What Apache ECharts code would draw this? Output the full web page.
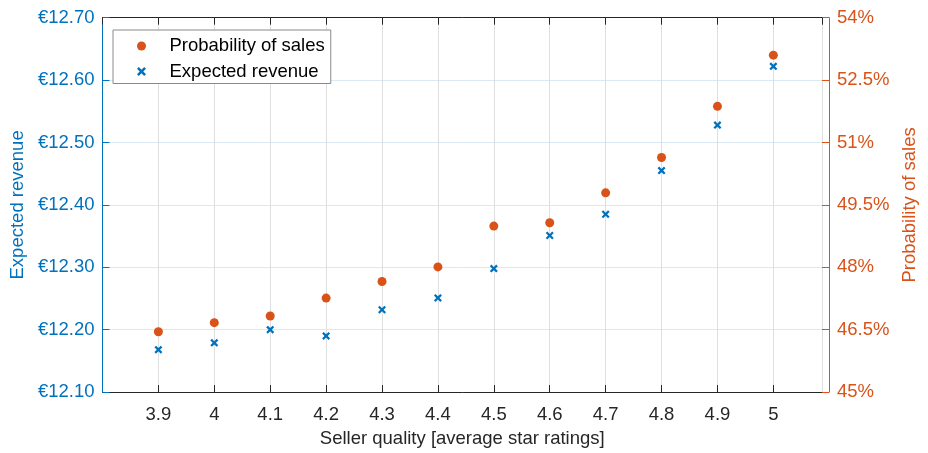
<!DOCTYPE html>
<html>
<head>
<meta charset="utf-8">
<script src="https://cdn.jsdelivr.net/npm/echarts@6/dist/echarts.min.js"></script>
<style>html,body{margin:0;padding:0;background:#fff}#c{width:928px;height:453px}</style>
</head>
<body>
<div id="c"></div>
<script>
const ratings = [3.9, 4.0, 4.1, 4.2, 4.3, 4.4, 4.5, 4.6, 4.7, 4.8, 4.9, 5.0];
const revenue = [12.168, 12.179, 12.200, 12.190, 12.232, 12.251, 12.298, 12.351, 12.385, 12.455, 12.528, 12.622];
const probability = [46.45, 46.67, 46.83, 47.26, 47.66, 48.01, 48.99, 49.07, 49.79, 50.64, 51.87, 53.10];
const seriesNames = ['Probability of sales', 'Expected revenue'];
const xTitle = 'Seller quality [average star ratings]';

const BLUE = '#0072BD', ORANGE = '#D95319', DARK = '#262626';
const FONT = '"Liberation Sans", Arial, Helvetica, sans-serif';
const FS = 18.5;
const XMARK = 'path://M0,2 L2,0 L5,3 L8,0 L10,2 L7,5 L10,8 L8,10 L5,7 L2,10 L0,8 L3,5 Z';

const chart = echarts.init(document.getElementById('c'), null, {renderer: 'canvas'});
const xCommon = {type: 'value', min: 3.8, max: 5.087, interval: 0.1};
chart.setOption({
  animation: false,
  textStyle: {fontFamily: FONT},
  grid: {left: 100, right: 106, top: 17.7, bottom: 57.3, containLabel: false},
  legend: {
    orient: 'vertical', left: 113, top: 30,
    padding: [6, 6, 2, 24], itemGap: 5.5,
    itemWidth: 46, itemHeight: 9,
    backgroundColor: '#fff', borderColor: '#8a8a8a', borderWidth: 1,
    textStyle: {fontFamily: FONT, fontSize: FS, color: '#000', lineHeight: 20},
    data: [{name: seriesNames[0], icon: 'circle'}, {name: seriesNames[1], icon: XMARK}]
  },
  xAxis: [
    Object.assign({}, xCommon, {
      position: 'bottom',
      name: xTitle, nameLocation: 'middle', nameGap: 33,
      nameTextStyle: {fontFamily: FONT, fontSize: FS, color: DARK},
      axisLine: {show: true, lineStyle: {color: DARK, width: 1}},
      axisTick: {show: true, inside: true, length: 7, lineStyle: {color: DARK}},
      axisLabel: {show: true, margin: 13, fontFamily: FONT, fontSize: FS, color: DARK,
        showMinLabel: false, showMaxLabel: false,
        formatter: v => (v < 3.85 || v > 5.05) ? '' : String(+v.toFixed(1))},
      splitLine: {show: true, lineStyle: {color: '#DFDFDF', width: 1}}
    }),
    Object.assign({}, xCommon, {
      position: 'top',
      axisLine: {show: true, lineStyle: {color: DARK, width: 1}},
      axisTick: {show: true, inside: true, length: 7, lineStyle: {color: DARK}},
      axisLabel: {show: false},
      splitLine: {show: false}
    })
  ],
  yAxis: [
    {
      type: 'value', position: 'left', min: 12.1, max: 12.7, interval: 0.1,
      name: 'Expected revenue', nameLocation: 'middle', nameGap: 70, nameRotate: 90,
      nameTextStyle: {fontFamily: FONT, fontSize: FS, color: BLUE},
      axisLine: {show: true, lineStyle: {color: BLUE, width: 1}},
      axisTick: {show: true, inside: true, length: 7, lineStyle: {color: BLUE}},
      axisLabel: {margin: 8, fontFamily: FONT, fontSize: FS, color: BLUE,
        formatter: v => '€' + v.toFixed(2)},
      splitLine: {show: true, lineStyle: {color: '#D9EAF5', width: 1}}
    },
    {
      type: 'value', position: 'right', offset: 7, min: 45, max: 54, interval: 1.5,
      name: 'Probability of sales', nameLocation: 'middle', nameGap: 70, nameRotate: 90,
      nameTextStyle: {fontFamily: FONT, fontSize: FS, color: ORANGE},
      axisLine: {show: true, lineStyle: {color: ORANGE, width: 1}},
      axisTick: {show: true, inside: true, length: 7, lineStyle: {color: ORANGE}},
      axisLabel: {margin: 8, fontFamily: FONT, fontSize: FS, color: ORANGE,
        formatter: v => (+v.toFixed(1)) + '%'},
      splitLine: {show: false}
    }
  ],
  series: [
    {
      name: seriesNames[0], type: 'scatter', xAxisIndex: 0, yAxisIndex: 1,
      symbol: 'circle', symbolSize: 9,
      itemStyle: {color: ORANGE, opacity: 1},
      data: ratings.map((r, i) => [r, probability[i]])
    },
    {
      name: seriesNames[1], type: 'scatter', xAxisIndex: 0, yAxisIndex: 0,
      symbol: XMARK, symbolSize: 8,
      itemStyle: {color: BLUE, opacity: 1},
      data: ratings.map((r, i) => [r, revenue[i]])
    }
  ]
});
</script>
</body>
</html>
